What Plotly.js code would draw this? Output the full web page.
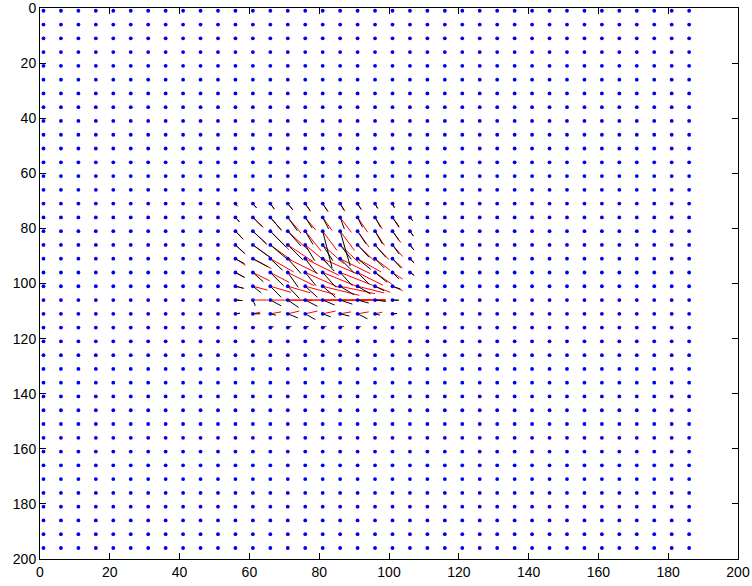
<!DOCTYPE html>
<html>
<head>
<meta charset="utf-8">
<script src="https://cdn.plot.ly/plotly-3.0.1.min.js"></script>
<style>html,body{margin:0;padding:0;background:#fff;}#chart{width:752px;height:586px;}</style>
</head>
<body>
<div id="chart"></div>
<script>
// grid of sample points (blue dots)
const gridX = [1,6,11,16,21,26,31,36,41,46,51,56,61,66,71,76,81,86,91,96,101,106,111,116,121,126,131,136,141,146,151,156,161,166,171,176,181,186];
const gridY = [1,6,11,16,21,26,31,36,41,46,51,56,61,66,71,76,81,86,91,96,101,106,111,116,121,126,131,136,141,146,151,156,161,166,171,176,181,186,191,196];

// region holding the non-zero vectors
const arrowX = [56,61,66,71,76,81,86,91,96,101,106];
const arrowY = [71,76,81,86,91,96,101,106,111,116];

// black field (u, v per row of arrowY)
const blackU = [
  [0.5,1.0,1.1,1.4,1.4,1.4,1.1,1.0,0.7,0.5,0.2],
  [1.1,2.7,3.1,2.7,2.0,1.7,1.2,1.4,1.6,1.9,0.8],
  [2.1,3.9,4.5,3.8,2.2,2.7,2.9,2.4,2.1,1.9,1.0],
  [2.6,4.9,4.8,4.3,2.7,2.9,3.2,3.3,3.1,1.9,1.1],
  [2.6,4.4,3.5,3.8,3.3,3.3,4.0,3.8,2.6,2.4,1.2],
  [2.6,3.0,3.8,3.0,3.1,3.8,3.5,3.3,3.5,1.9,1.2],
  [2.3,2.4,3.1,3.3,3.5,3.7,4.0,3.7,2.6,2.3,0.4],
  [2.0,0.7,3.1,3.1,3.5,3.4,3.5,3.2,3.1,1.8,0.2],
  [1.3,2.1,1.6,2.9,2.9,2.3,2.6,2.8,1.4,1.3,0.2],
  [0.3,0.5,0.6,0.7,0.7,0.7,0.6,0.6,0.5,0.3,0.1]
];
const blackV = [
  [0.8,1.5,1.9,2.2,2.5,2.7,2.4,2.1,1.7,1.5,0.4],
  [1.6,3.4,4.5,4.8,3.9,4.2,4.2,3.6,3.6,3.6,1.2],
  [2.8,4.6,5.8,5.4,4.8,13.3,12.7,4.6,4.6,3.4,1.8],
  [3.0,4.5,5.1,5.4,5.7,5.7,5.2,4.5,4.5,3.3,1.8],
  [1.8,3.0,4.2,5.4,5.4,4.5,5.1,3.9,3.3,3.3,1.5],
  [1.8,3.4,4.8,5.4,4.8,5.4,4.8,4.2,3.6,2.4,1.0],
  [0.7,2.4,4.0,4.4,4.0,4.0,3.1,2.8,1.6,1.0,0.2],
  [0.2,2.1,2.1,2.7,2.3,1.8,1.5,1.1,0.5,0.1,0.0],
  [-0.2,0.0,0.5,1.5,2.1,1.1,0.8,1.8,0.5,-0.1,0.0],
  [0.0,0.0,-0.2,-0.3,-0.3,-0.3,-0.3,-0.2,-0.1,0.0,0.0]
];

// red field
const redU = [
  [0.6,1.1,1.2,1.5,1.5,1.6,1.4,1.1,0.8,0.6,0.2],
  [1.2,3.0,3.2,3.8,3.0,2.7,3.2,2.9,2.1,1.9,0.8],
  [2.3,4.0,5.3,5.7,4.6,4.1,4.1,3.3,2.7,2.4,1.0],
  [2.8,5.3,6.2,7.2,6.5,6.0,5.7,5.0,4.0,2.9,1.1],
  [2.9,5.3,6.7,8.6,9.6,9.6,8.6,6.7,4.3,2.9,1.2],
  [2.6,4.8,5.4,7.6,9.6,10.5,9.6,7.2,4.8,2.9,1.2],
  [2.4,4.2,5.9,6.5,8.6,10.5,10.0,7.6,4.3,2.9,0.5],
  [2.0,4.3,12.0,15.0,18.0,16.0,13.0,8.0,3.1,1.8,0.2],
  [1.3,2.1,3.1,3.3,3.5,3.7,3.1,3.2,2.1,1.3,0.2],
  [0.3,0.6,1.0,1.1,1.1,1.1,1.1,1.0,0.6,0.4,0.1]
];
const redV = [
  [1.0,1.6,2.1,2.3,2.8,3.0,2.7,2.2,1.8,1.5,0.4],
  [1.7,3.6,4.8,5.7,4.6,4.8,5.4,5.4,4.2,3.3,1.2],
  [3.0,4.8,6.7,6.7,7.3,7.0,7.0,5.8,5.2,4.2,1.8],
  [3.3,4.8,5.7,6.0,6.8,6.8,6.8,6.0,5.4,4.2,1.8],
  [2.4,3.6,4.8,5.4,6.0,5.4,5.4,4.8,4.2,3.4,1.5],
  [1.8,3.0,3.6,4.8,5.4,5.4,4.8,4.6,4.2,2.4,1.0],
  [0.8,1.4,2.2,2.4,3.0,3.3,2.7,2.4,2.2,1.6,0.4],
  [0.2,0.0,0.1,0.0,0.1,0.0,-0.1,0.0,0.1,0.0,0.0],
  [-0.2,-0.6,-0.7,-1.0,-1.0,-1.0,-0.7,-0.7,-0.6,-0.1,0.0],
  [0.0,-0.1,-0.4,-0.5,-0.5,-0.5,-0.5,-0.4,-0.2,-0.1,0.0]
];

const tickVals = [0,20,40,60,80,100,120,140,160,180,200];

function quiverSegments(U, V) {
  const xs = [], ys = [];
  for (let r = 0; r < arrowY.length; r++) {
    for (let c = 0; c < arrowX.length; c++) {
      const x0 = arrowX[c], y0 = arrowY[r];
      xs.push(x0, x0 + U[r][c], null);
      ys.push(y0, y0 + V[r][c], null);
    }
  }
  return {xs, ys};
}

const blk = quiverSegments(blackU, blackV);
const red = quiverSegments(redU, redV);

const dotX = [], dotY = [];
for (const y of gridY) for (const x of gridX) { dotX.push(x); dotY.push(y); }

const traces = [
  {type:'scatter', mode:'lines', x: red.xs, y: red.ys, line:{color:'#ff0000', width:1}, hoverinfo:'skip', connectgaps:false},
  {type:'scatter', mode:'lines', x: blk.xs, y: blk.ys, line:{color:'#000000', width:1}, hoverinfo:'skip', connectgaps:false},
  {type:'scatter', mode:'markers', x: dotX, y: dotY, marker:{color:'#0000f0', size:3.8, line:{width:0}}, hoverinfo:'skip'}
];

const axisCommon = {
  showgrid:false, zeroline:false, showline:true, linecolor:'#000', linewidth:1,
  mirror:'ticks', ticks:'inside', ticklen:6, tickcolor:'#000', tickwidth:1,
  tickvals: tickVals, ticktext: tickVals.map(String),
  ticklabeloverflow:'allow',
  tickfont:{family:'Liberation Sans, Arial, sans-serif', size:14, color:'#000'}
};

const layout = {
  width:752, height:586,
  margin:{l:40, r:14, t:8, b:27},
  paper_bgcolor:'#fff', plot_bgcolor:'#fff',
  showlegend:false,
  xaxis: Object.assign({}, axisCommon, {range:[0,200]}),
  yaxis: Object.assign({}, axisCommon, {range:[200,0]})
};

Plotly.newPlot('chart', traces, layout, {staticPlot:true, displayModeBar:false});
</script>
</body>
</html>
